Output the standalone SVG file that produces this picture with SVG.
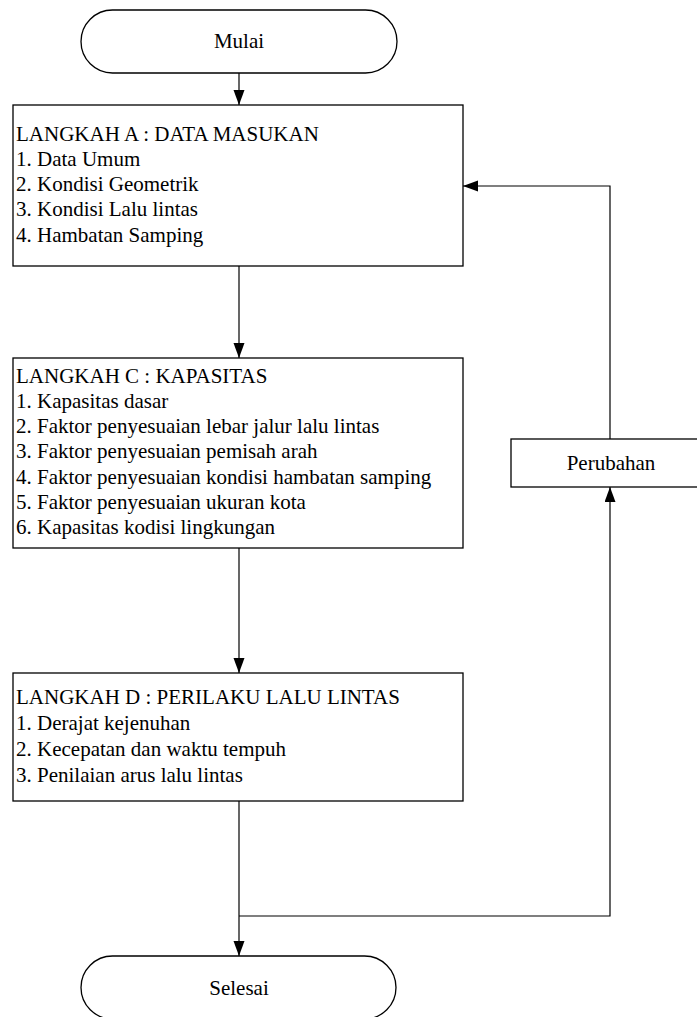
<svg xmlns="http://www.w3.org/2000/svg" width="697" height="1017" viewBox="0 0 697 1017">
<defs>
<style>
.shape{fill:#fff;stroke:#000;stroke-width:1.3}
.t{font-family:"Liberation Serif","Times New Roman",serif;font-size:21px;fill:#000}
.c{text-anchor:middle}
.conn{fill:none;stroke:#000;stroke-width:1.2}
</style>
<marker id="ah" markerUnits="userSpaceOnUse" markerWidth="16" markerHeight="12" refX="15" refY="5.5" orient="auto">
<path d="M0,0 L15,5.5 L0,11 z" fill="#000"/>
</marker>
</defs>
<rect width="697" height="1017" fill="#fff"/>
<g id="connectors">
<line class="conn" x1="239" y1="73" x2="239" y2="105" marker-end="url(#ah)"/>
<line class="conn" x1="239" y1="266" x2="239" y2="358" marker-end="url(#ah)"/>
<line class="conn" x1="239" y1="548" x2="239" y2="673" marker-end="url(#ah)"/>
<line class="conn" x1="239" y1="801" x2="239" y2="956" marker-end="url(#ah)"/>
<polyline class="conn" points="239,916 610,916 610,487" marker-end="url(#ah)"/>
<polyline class="conn" points="610,439 610,186 463,186" marker-end="url(#ah)"/>
</g>
<g id="mulai">
<rect class="shape" x="81" y="10" width="316" height="63" rx="31.5" ry="31.5"/>
<text class="t c" x="239" y="48">Mulai</text>
</g>
<g id="langkah-a">
<rect class="shape" x="13" y="105" width="450" height="161"/>
<text class="t" x="16" y="141">LANGKAH A : DATA MASUKAN</text>
<text class="t" x="16" y="166">1. Data Umum</text>
<text class="t" x="16" y="191">2. Kondisi Geometrik</text>
<text class="t" x="16" y="216">3. Kondisi Lalu lintas</text>
<text class="t" x="16" y="242">4. Hambatan Samping</text>
</g>
<g id="langkah-c">
<rect class="shape" x="13" y="358" width="450" height="190"/>
<text class="t" x="16" y="383">LANGKAH C : KAPASITAS</text>
<text class="t" x="16" y="408">1. Kapasitas dasar</text>
<text class="t" x="16" y="433">2. Faktor penyesuaian lebar jalur lalu lintas</text>
<text class="t" x="16" y="458">3. Faktor penyesuaian pemisah arah</text>
<text class="t" x="16" y="484">4. Faktor penyesuaian kondisi hambatan samping</text>
<text class="t" x="16" y="509">5. Faktor penyesuaian ukuran kota</text>
<text class="t" x="16" y="534">6. Kapasitas kodisi lingkungan</text>
</g>
<g id="langkah-d">
<rect class="shape" x="13" y="673" width="450" height="128"/>
<text class="t" x="16" y="704">LANGKAH D : PERILAKU LALU LINTAS</text>
<text class="t" x="16" y="730">1. Derajat kejenuhan</text>
<text class="t" x="16" y="756">2. Kecepatan dan waktu tempuh</text>
<text class="t" x="16" y="782">3. Penilaian arus lalu lintas</text>
</g>
<g id="perubahan">
<rect class="shape" x="511" y="439" width="200" height="48"/>
<text class="t c" x="611" y="470">Perubahan</text>
</g>
<g id="selesai">
<rect class="shape" x="81" y="956" width="315" height="63" rx="31.5" ry="31.5"/>
<text class="t c" x="239" y="995">Selesai</text>
</g>
</svg>
